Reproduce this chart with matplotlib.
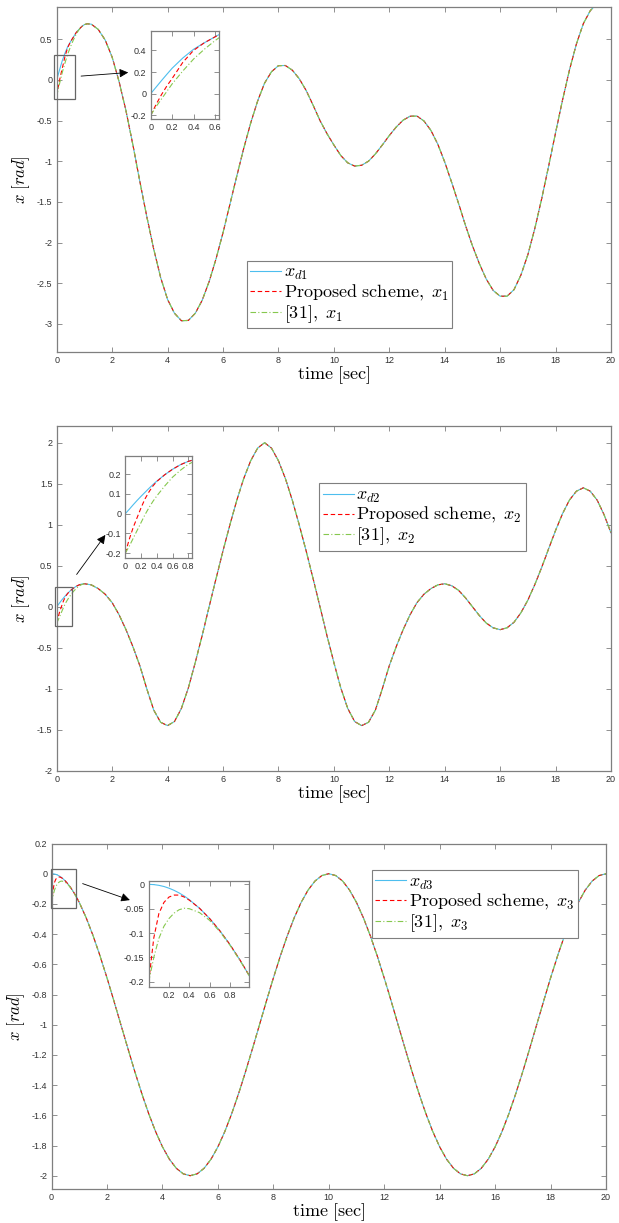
import numpy as np
import matplotlib
matplotlib.use('Agg')
import matplotlib.pyplot as plt
from matplotlib.ticker import FuncFormatter
from matplotlib.patches import Rectangle, FancyArrowPatch

plt.rcParams['mathtext.fontset'] = 'cm'
plt.rcParams['axes.unicode_minus'] = False
plt.rcParams['font.family'] = ['Liberation Sans', 'DejaVu Sans']

# ---------------- data ----------------
# start-up transient, sampled finely (this is what the insets show)
t1_early = [0, 0.05, 0.1, 0.15, 0.2, 0.3, 0.4, 0.5, 0.6, 0.7, 0.8, 0.9, 1.0, 1.1]
xd1_early = [0, 0.06, 0.12, 0.178, 0.235, 0.33, 0.41, 0.47, 0.525, 0.58, 0.62, 0.655, 0.68, 0.69]
prop1_early = [-0.2, -0.1, -0.01, 0.07, 0.14, 0.29, 0.40, 0.47, 0.525, 0.58, 0.62, 0.655, 0.68, 0.69]
ref1_early = [-0.2, -0.12, -0.05, 0.02, 0.09, 0.21, 0.32, 0.41, 0.49, 0.56, 0.615, 0.655, 0.68, 0.69]

t2_early = [0, 0.05, 0.1, 0.15, 0.2, 0.25, 0.3, 0.35, 0.4, 0.5, 0.6, 0.7, 0.8, 0.9, 1.0]
xd2_early = [0, 0.022, 0.045, 0.067, 0.088, 0.108, 0.128, 0.147, 0.165, 0.197, 0.225, 0.248, 0.265, 0.276, 0.28]
prop2_early = [-0.2, -0.13, -0.07, -0.02, 0.03, 0.075, 0.11, 0.14, 0.163, 0.197, 0.225, 0.248, 0.265, 0.276, 0.28]
ref2_early = [-0.2, -0.165, -0.125, -0.085, -0.045, -0.005, 0.03, 0.062, 0.09, 0.14, 0.185, 0.22, 0.25, 0.27, 0.28]

t3_early = [0, 0.05, 0.1, 0.15, 0.2, 0.25, 0.3, 0.35, 0.4, 0.5, 0.6, 0.7, 0.8, 0.9, 1.0]
xd3_early = [0, -0.0005, -0.002, -0.0044, -0.0079, -0.0123, -0.0177, -0.024, -0.0315,
             -0.049, -0.0702, -0.0952, -0.1237, -0.1558, -0.191]
prop3_early = [-0.2, -0.11, -0.06, -0.037, -0.026, -0.022, -0.022, -0.026, -0.0325,
               -0.049, -0.0702, -0.0952, -0.1237, -0.1558, -0.191]
ref3_early = [-0.2, -0.15, -0.111, -0.086, -0.07, -0.059, -0.052, -0.049, -0.05,
              -0.058, -0.074, -0.097, -0.125, -0.157, -0.191]

# after the transient all three curves coincide: t = 1.25 ... 20 every 0.25 s
t_late = np.arange(1.25, 20.001, 0.25)
xd1_late = [0.685, 0.62, 0.49, 0.28,
            -0.02, -0.38, -0.80, -1.25,
            -1.68, -2.08, -2.43, -2.70,
            -2.87, -2.962, -2.958, -2.87,
            -2.71, -2.48, -2.20, -1.88,
            -1.53, -1.18, -0.84, -0.53,
            -0.26, -0.04, 0.10, 0.175,
            0.177, 0.12, 0.015, -0.13,
            -0.31, -0.50, -0.66, -0.80,
            -0.93, -1.02, -1.06, -1.05,
            -1.0, -0.91, -0.80, -0.685,
            -0.58, -0.495, -0.447, -0.445,
            -0.505, -0.62, -0.79, -1.01,
            -1.26, -1.52, -1.79, -2.04,
            -2.26, -2.45, -2.59, -2.66,
            -2.66, -2.58, -2.40, -2.15,
            -1.83, -1.46, -1.06, -0.65,
            -0.25, 0.12, 0.44, 0.69,
            0.85, 0.94, 0.95, 0.9]
xd2_late = [0.266, 0.22, 0.152, 0.05,
            -0.098, -0.28, -0.488, -0.72,
            -1.0, -1.26, -1.41, -1.45,
            -1.40, -1.24, -0.99, -0.68,
            -0.35, 0.0, 0.344, 0.68,
            1.0, 1.3, 1.565, 1.78,
            1.934, 2.0, 1.934, 1.78,
            1.565, 1.3, 1.0, 0.68,
            0.344, 0.0, -0.35, -0.68,
            -0.99, -1.24, -1.40, -1.45,
            -1.41, -1.26, -1.0, -0.72,
            -0.488, -0.28, -0.098, 0.05,
            0.152, 0.22, 0.266, 0.28,
            0.256, 0.2, 0.108, 0.0,
            -0.108, -0.2, -0.258, -0.28,
            -0.257, -0.19, -0.074, 0.08,
            0.269, 0.48, 0.707, 0.93,
            1.134, 1.3, 1.408, 1.45,
            1.409, 1.3, 1.122, 0.9]
xd3_late = [-0.2929, -0.4122, -0.546, -0.691,
            -0.8436, -1.0, -1.1564, -1.309,
            -1.454, -1.5878, -1.7071, -1.809,
            -1.891, -1.951, -1.9877, -2.0,
            -1.9877, -1.951, -1.891, -1.809,
            -1.7071, -1.5878, -1.454, -1.309,
            -1.1564, -1.0, -0.8436, -0.691,
            -0.546, -0.4122, -0.2929, -0.191,
            -0.109, -0.0489, -0.0123, 0.0,
            -0.0123, -0.0489, -0.109, -0.191,
            -0.2929, -0.4122, -0.546, -0.691,
            -0.8436, -1.0, -1.1564, -1.309,
            -1.454, -1.5878, -1.7071, -1.809,
            -1.891, -1.951, -1.9877, -2.0,
            -1.9877, -1.951, -1.891, -1.809,
            -1.7071, -1.5878, -1.454, -1.309,
            -1.1564, -1.0, -0.8436, -0.691,
            -0.546, -0.4122, -0.2929, -0.191,
            -0.109, -0.0489, -0.0123, 0.0]

x_ticks = [0, 2, 4, 6, 8, 10, 12, 14, 16, 18, 20]

# ---------------- layout helpers (pixels, from top-left) ----------------
W, H = 619, 1223
fig = plt.figure(figsize=(W / 100, H / 100), dpi=100)


def box(l, t, r, b):
    return [l / W, 1 - b / H, (r - l) / W, (b - t) / H]


def fpt(x, y):
    return (x / W, 1 - y / H)


fmt = FuncFormatter(lambda v, p: '%g' % (round(v, 4) + 0.0))
BLUE, RED, GREEN = '#4DBEEE', '#FF0000', '#86C84E'
EDGE = '#7f7f7f'


def style(ax, size=6.5):
    ax.tick_params(direction='in', top=True, right=True, length=3.5, width=0.6,
                   labelsize=size, color=EDGE, labelcolor='#333333', pad=3)
    for s in ax.spines.values():
        s.set_color(EDGE)
        s.set_linewidth(0.9)
    ax.xaxis.set_major_formatter(fmt)
    ax.yaxis.set_major_formatter(fmt)


def draw(ax, t, xd, prop, ref, k):
    ax.plot(t, xd, color=BLUE, lw=0.8, label=r'$x_{d%d}$' % k)
    ax.plot(t, prop, color=RED, lw=0.8, ls=(0, (4, 2.5)), label=r'$\mathrm{Proposed\ scheme,}\ x_%d$' % k)
    ax.plot(t, ref, color=GREEN, lw=0.8, ls=(0, (5, 2, 1, 2)), label=r'$\mathrm{[31],}\ x_%d$' % k)


tl = list(t_late)
panels = [
    dict(k=1, t=t1_early + tl, xd=xd1_early + xd1_late, prop=prop1_early + xd1_late,
         ref=ref1_early + xd1_late, ax=(56.7, 6.7, 611, 352.3), ylim=(-3.35, 0.9),
         yticks=np.arange(-3, 0.51, 0.5), leg=(246.7, 260.7),
         inset=(150.7, 31, 219.3, 119), ixlim=(0, 0.64), iylim=(-0.234, 0.579),
         ixt=[0, 0.2, 0.4, 0.6], iyt=[-0.2, 0, 0.2, 0.4],
         rect=(54.3, 55.3, 75.3, 99), arrow=((78.3, 76.3), (131, 72.3))),
    dict(k=2, t=t2_early + tl, xd=xd2_early + xd2_late, prop=prop2_early + xd2_late,
         ref=ref2_early + xd2_late, ax=(56.7, 426.3, 611, 770.7), ylim=(-2, 2.2),
         yticks=np.arange(-2, 2.01, 0.5), leg=(319.3, 483.3),
         inset=(125.3, 456, 192.3, 557.7), ixlim=(0, 0.85), iylim=(-0.223, 0.292),
         ixt=[0, 0.2, 0.4, 0.6, 0.8], iyt=[-0.2, -0.1, 0, 0.1, 0.2],
         rect=(55, 586.7, 72.3, 626), arrow=((75, 576.7), (107, 532.7))),
    dict(k=3, t=t3_early + tl, xd=xd3_early + xd3_late, prop=prop3_early + xd3_late,
         ref=ref3_early + xd3_late, ax=(51.6, 843.5, 606, 1189.3), ylim=(-2.09, 0.2),
         yticks=np.arange(-2, 0.21, 0.2), leg=(371.7, 870),
         inset=(148.7, 880.7, 249.3, 986.7), ixlim=(0, 0.99), iylim=(-0.21, 0.0075),
         ixt=[0.2, 0.4, 0.6, 0.8], iyt=[-0.2, -0.15, -0.1, -0.05, 0],
         rect=(50.7, 868.7, 75.7, 907.7), arrow=((80, 882.7), (132.5, 901))),
]

for p in panels:
    ax = fig.add_axes(box(*p['ax']))
    draw(ax, p['t'], p['xd'], p['prop'], p['ref'], p['k'])
    ax.set_xlim(0, 20)
    ax.set_ylim(*p['ylim'])
    ax.set_xticks(x_ticks)
    ax.set_yticks(p['yticks'])
    style(ax)
    ax.set_xlabel(r'$\mathrm{time\ [sec]}$', fontsize=13)
    ax.set_ylabel(r'$x\ [rad]$', fontsize=12)
    ax.xaxis.set_label_coords(0.5, -0.036)
    ax.yaxis.set_label_coords(-0.045, 0.5)
    leg = ax.legend(loc='upper left', bbox_to_anchor=fpt(*p['leg']), bbox_transform=fig.transFigure,
                    borderaxespad=0, fontsize=13, handlelength=1.7, handletextpad=0.15,
                    labelspacing=0.02, borderpad=0.2, fancybox=False, framealpha=1,
                    edgecolor=EDGE)
    leg.get_frame().set_linewidth(0.8)

    axi = fig.add_axes(box(*p['inset']))
    draw(axi, p['t'], p['xd'], p['prop'], p['ref'], p['k'])
    axi.set_xlim(*p['ixlim'])
    axi.set_ylim(*p['iylim'])
    axi.set_xticks(p['ixt'])
    axi.set_yticks(p['iyt'])
    style(axi, 6.5)

    l, t, r, b = p['rect']
    fig.add_artist(Rectangle(fpt(l, b), (r - l) / W, (b - t) / H, transform=fig.transFigure,
                             fill=False, ec='#666666', lw=0.9))
    a0, a1 = p['arrow']
    fig.add_artist(FancyArrowPatch(fpt(*a0), fpt(*a1), transform=fig.transFigure,
                                   arrowstyle='-|>', mutation_scale=13, color='k', lw=0.6))

fig.savefig('out.png', dpi=100)
